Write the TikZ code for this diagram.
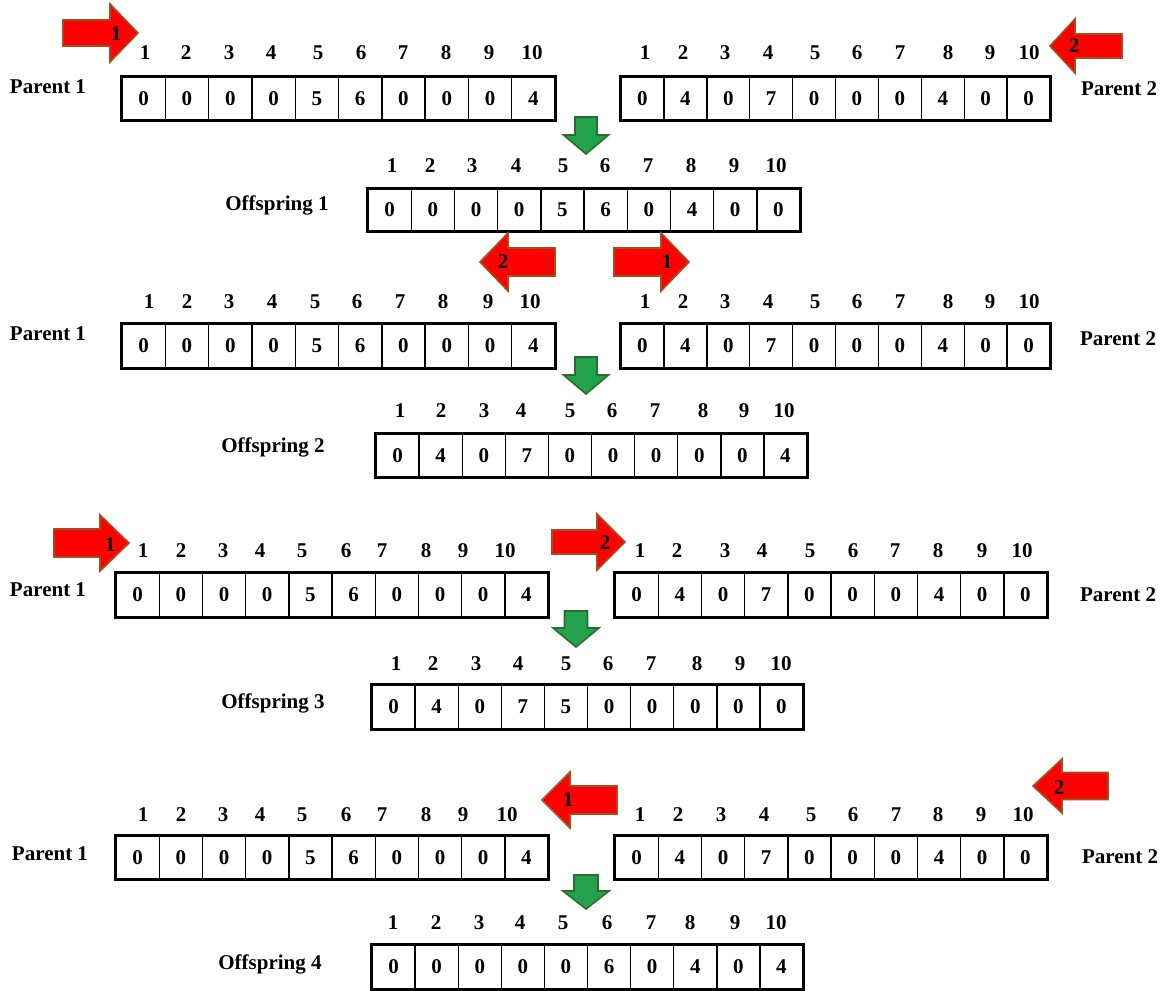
\documentclass[tikz,border=0pt]{standalone}
\usepackage{fontspec}
\setmainfont{Liberation Serif}
\definecolor{arrred}{HTML}{FF0000}
\definecolor{arrbrown}{HTML}{A0501E}
\definecolor{arrgreen}{HTML}{22A24A}
\definecolor{arrgreenedge}{HTML}{2E6B30}
\tikzset{
  txt/.style={font=\fontsize{21}{24}\selectfont\bfseries, inner sep=0pt},
  cell/.style={draw, line width=1.4pt, inner sep=0pt, font=\fontsize{21}{24}\selectfont\bfseries},
  outerbox/.style={line width=2.6pt},
  redarr/.style={fill=arrred, draw=arrbrown, line width=1.6pt, line join=miter},
  greenarr/.style={fill=arrgreen, draw=arrgreenedge, line width=1.6pt, line join=miter},
}
% #1 name, #2 x left, #3 x right, #4 y top, #5 y bottom, #6 values, #7 index x list, #8 index y
\newcommand\cellrow[8]{%
  \pgfmathsetmacro\cw{(#3-#2)/10}%
  \pgfmathsetmacro\chh{#5-#4}%
  \foreach \v [count=\i] in {#6} {
    \node[cell, minimum width=\cw pt, minimum height=\chh pt] (#1-\i) at ({#2+(\i-0.5)*\cw}, {(#4+#5)/2}) {\v};
  }
  \draw[outerbox] (#1-1.north west) rectangle (#1-10.south east);
  \foreach \xx [count=\i] in {#7} { \node[txt] (#1-n\i) at (\xx, #8) {\i}; }
}
% horizontal block arrow: #1 body end x, #2 head base x, #3 tip x, #4 y centre, #5 body half, #6 head half
\newcommand\harrow[6]{%
  \filldraw[redarr] (#1,#4-#5) -- (#2,#4-#5) -- (#2,#4-#6) -- (#3,#4) -- (#2,#4+#6) -- (#2,#4+#5) -- (#1,#4+#5) -- cycle;
}
% vertical block arrow: #1 x centre, #2 top y, #3 head base y, #4 tip y, #5 body half, #6 head half
\newcommand\varrow[6]{%
  \filldraw[greenarr] (#1-#5,#2) -- (#1-#5,#3) -- (#1-#6,#3) -- (#1,#4) -- (#1+#6,#3) -- (#1+#5,#3) -- (#1+#5,#2) -- cycle;
}
\begin{document}
\begin{tikzpicture}[x=1pt,y=-1pt]
\useasboundingbox (0,0) rectangle (1171,991);

% ---------- Section 1 ----------
\harrow{63}{110}{138}{33}{13}{29}
\node[txt] (a1) at (116,34) {1};
\harrow{1122}{1075}{1050}{46}{12}{27}
\node[txt] (a2) at (1074,46) {2};

\cellrow{sAp}{122}{555}{77}{120}{0,0,0,0,5,6,0,0,0,4}{145,186,229,271,318,361,403,446,489,532}{53}
\cellrow{sAq}{621}{1050}{77}{120}{0,4,0,7,0,0,0,4,0,0}{645,683,725,768,815,857,900,948,990,1029}{53}
\node[txt] (lA1) at (48,87) {Parent 1};
\node[txt] (lA2) at (1119,89) {Parent 2};
\varrow{586}{117}{135}{154}{11}{22.5}
\cellrow{sAo}{368}{800}{189}{231}{0,0,0,0,5,6,0,4,0,0}{392,430,472,516,563,605,648,691,734,776}{166}
\node[txt] (lAo) at (277,205) {Offspring 1};
\harrow{555}{508}{480}{262}{14}{29}
\node[txt] (a3) at (503,262) {2};
\harrow{614}{661}{689}{262}{14}{29}
\node[txt] (a4) at (667,262) {1};

% ---------- Section 2 ----------
\cellrow{sBp}{122}{555}{324}{368}{0,0,0,0,5,6,0,0,0,4}{149,187,229,272,315,357,400,443,488,530}{302}
\cellrow{sBq}{621}{1050}{324}{368}{0,4,0,7,0,0,0,4,0,0}{645,683,725,768,815,857,900,948,990,1029}{302}
\node[txt] (lB1) at (48,334) {Parent 1};
\node[txt] (lB2) at (1118,339) {Parent 2};
\varrow{586}{357}{375}{394}{11}{22.5}
\cellrow{sBo}{376}{807}{434}{477}{0,4,0,7,0,0,0,0,0,4}{400,441,484,521,570,612,655,703,744,784}{411}
\node[txt] (lBo) at (273,447) {Offspring 2};

% ---------- Section 3 ----------
\harrow{54}{100}{129}{543}{14}{28}
\node[txt] (a5) at (110,545) {1};
\harrow{552}{597}{625}{542}{12}{28}
\node[txt] (a6) at (605,543) {2};
\cellrow{sCp}{116}{548}{573}{617}{0,0,0,0,5,6,0,0,0,4}{143,181,223,260,302,346,382,426,463,505}{551}
\cellrow{sCq}{615}{1047}{573}{617}{0,4,0,7,0,0,0,4,0,0}{640,677,725,762,810,853,895,938,982,1022}{551}
\node[txt] (lC1) at (48,590) {Parent 1};
\node[txt] (lC2) at (1118,595) {Parent 2};
\varrow{576}{611}{628}{647}{11.5}{23}
\cellrow{sCo}{372}{803}{685}{729}{0,4,0,7,5,0,0,0,0,0}{396,433,476,518,566,608,651,697,740,781}{664}
\node[txt] (lCo) at (273,703) {Offspring 3};

% ---------- Section 4 ----------
\harrow{617}{570}{542}{800}{14}{28}
\node[txt] (a7) at (568,800) {1};
\harrow{1108}{1062}{1033}{786}{13.5}{27}
\node[txt] (a8) at (1059,788) {2};
\cellrow{sDp}{116}{548}{836}{879}{0,0,0,0,5,6,0,0,0,4}{143,181,223,260,302,346,382,426,463,507}{815}
\cellrow{sDq}{615}{1047}{836}{879}{0,4,0,7,0,0,0,4,0,0}{640,678,721,764,811,853,896,938,981,1023}{815}
\node[txt] (lD1) at (50,854) {Parent 1};
\node[txt] (lD2) at (1120,857) {Parent 2};
\varrow{586}{875}{891}{909}{12}{23}
\cellrow{sDo}{372}{803}{945}{989}{0,0,0,0,0,6,0,4,0,4}{393,436,479,520,563,607,651,690,735,776}{923}
\node[txt] (lDo) at (270,964) {Offspring 4};
\end{tikzpicture}
\end{document}
